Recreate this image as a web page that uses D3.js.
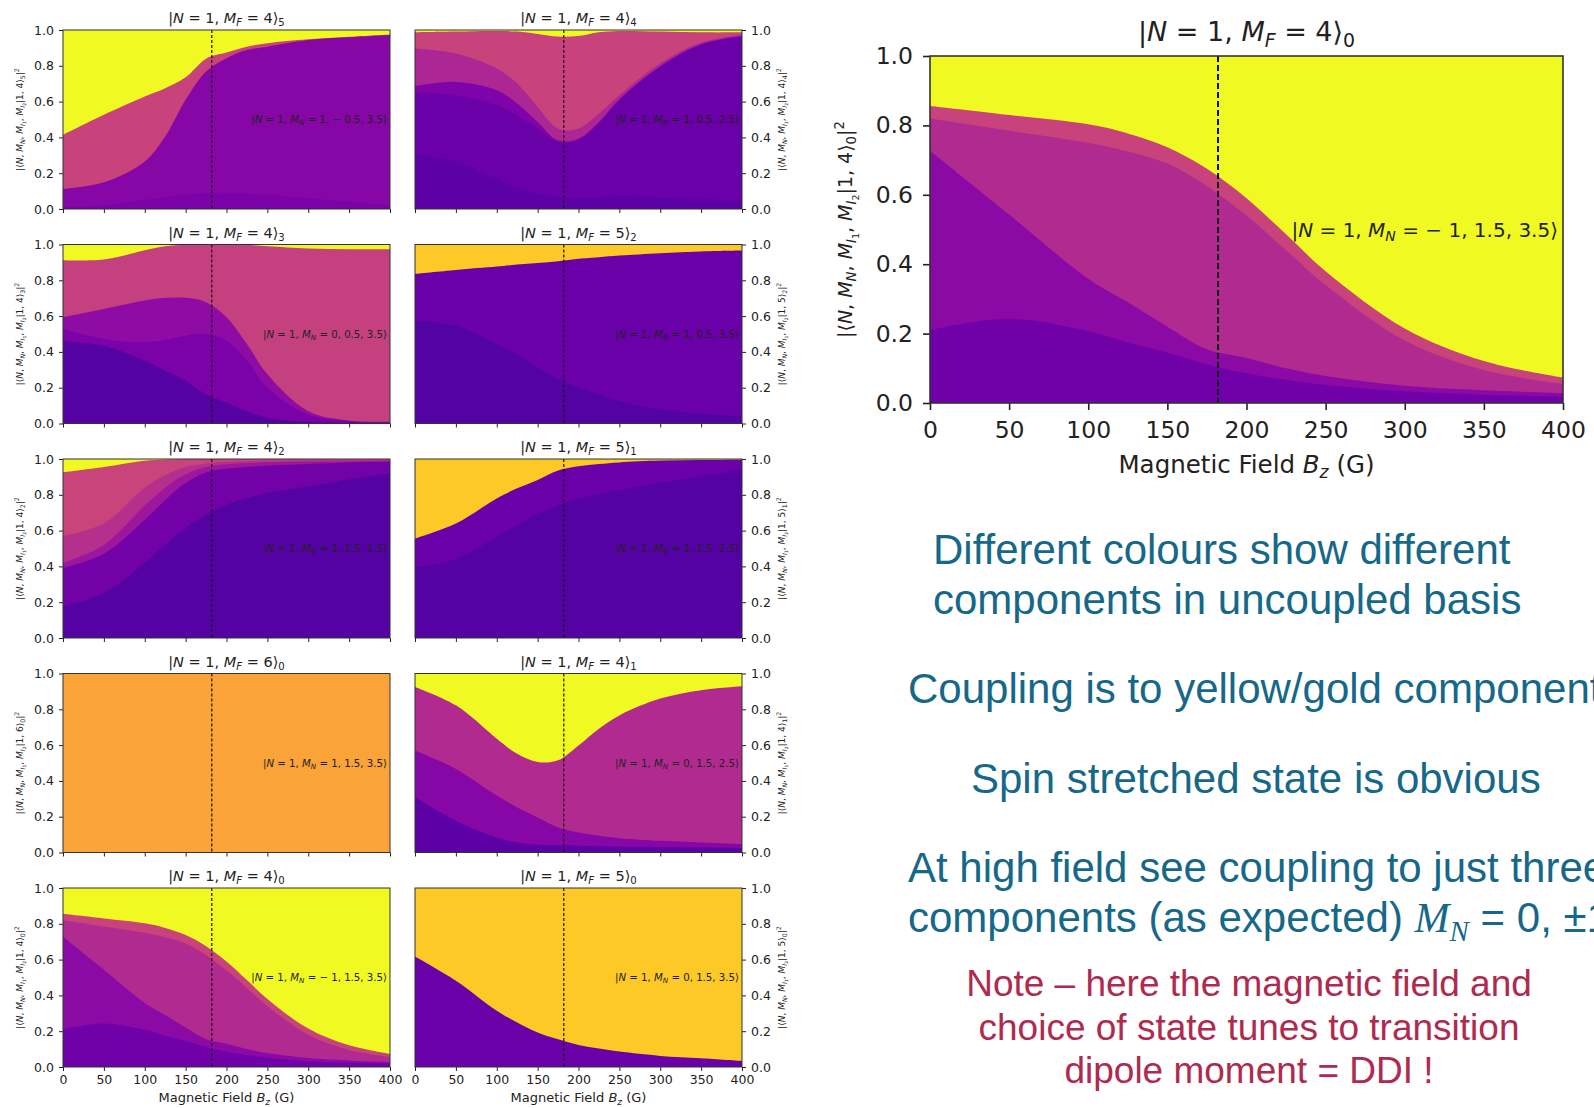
<!DOCTYPE html>
<html>
<head>
<meta charset="utf-8">
<script src="https://cdn.jsdelivr.net/npm/d3@7"></script>
<style>
  body { margin: 0; background: #fff; }
  svg { display: block; font-family: "DejaVu Sans", sans-serif; }
</style>
</head>
<body>
<svg id="chart" width="1594" height="1108"></svg>
<script>
// field values where the stack fractions were read (G)
const fieldB = [0, 50, 100, 125, 150, 175, 200, 225, 250, 300, 350, 400];
const markerB = 182;
const xTicks = [0, 50, 100, 150, 200, 250, 300, 350, 400];
const yTicks = [0, 0.2, 0.4, 0.6, 0.8, 1.0];

// uncoupled-basis components, bottom to top
const mf4s5 = [
  [0.010, 0.020, 0.050, 0.065, 0.080, 0.090, 0.090, 0.085, 0.080, 0.060, 0.040, 0.020],
  [0.102, 0.129, 0.216, 0.340, 0.530, 0.678, 0.752, 0.803, 0.827, 0.884, 0.919, 0.952],
  [0.302, 0.377, 0.362, 0.270, 0.126, 0.072, 0.032, 0.019, 0.019, 0.004, 0.003, 0.003],
  [0.586, 0.474, 0.372, 0.325, 0.264, 0.160, 0.126, 0.093, 0.074, 0.052, 0.038, 0.025]
];
const mf4s4 = [
  [0.308, 0.262, 0.168, 0.121, 0.088, 0.065, 0.062, 0.065, 0.073, 0.065, 0.056, 0.047],
  [0.337, 0.374, 0.411, 0.402, 0.361, 0.309, 0.321, 0.412, 0.534, 0.729, 0.860, 0.916],
  [0.041, 0.074, 0.085, 0.066, 0.037, 0.009, 0.010, 0.009, 0.006, 0.004, 0.004, 0.003],
  [0.211, 0.159, 0.121, 0.112, 0.084, 0.066, 0.056, 0.047, 0.023, 0.015, 0.010, 0.006],
  [0.090, 0.122, 0.209, 0.290, 0.408, 0.514, 0.517, 0.454, 0.358, 0.178, 0.057, 0.015],
  [0.013, 0.009, 0.006, 0.009, 0.022, 0.037, 0.034, 0.013, 0.006, 0.009, 0.013, 0.013]
];
const mf4s3 = [
  [0.460, 0.434, 0.350, 0.294, 0.238, 0.163, 0.116, 0.069, 0.032, 0.008, 0.004, 0.002],
  [0.068, 0.038, 0.103, 0.172, 0.252, 0.337, 0.347, 0.281, 0.168, 0.042, 0.009, 0.005],
  [0.066, 0.168, 0.234, 0.236, 0.212, 0.178, 0.131, 0.094, 0.075, 0.019, 0.004, 0.003],
  [0.318, 0.276, 0.281, 0.288, 0.296, 0.322, 0.406, 0.554, 0.715, 0.909, 0.957, 0.964],
  [0.088, 0.084, 0.032, 0.010, 0.002, 0.000, 0.000, 0.002, 0.010, 0.022, 0.026, 0.026]
];
const mf5s2 = [
  [0.574, 0.546, 0.443, 0.387, 0.312, 0.247, 0.200, 0.163, 0.125, 0.079, 0.054, 0.041],
  [0.262, 0.312, 0.434, 0.501, 0.585, 0.660, 0.720, 0.766, 0.813, 0.872, 0.907, 0.925],
  [0.164, 0.142, 0.123, 0.112, 0.103, 0.093, 0.080, 0.071, 0.062, 0.049, 0.039, 0.034]
];
const mf4s2 = [
  [0.177, 0.251, 0.419, 0.521, 0.614, 0.689, 0.745, 0.782, 0.810, 0.847, 0.885, 0.920],
  [0.213, 0.219, 0.241, 0.249, 0.252, 0.236, 0.200, 0.173, 0.152, 0.125, 0.095, 0.065],
  [0.030, 0.050, 0.080, 0.070, 0.049, 0.030, 0.025, 0.022, 0.020, 0.014, 0.008, 0.005],
  [0.150, 0.120, 0.100, 0.070, 0.040, 0.020, 0.015, 0.011, 0.008, 0.006, 0.005, 0.004],
  [0.355, 0.315, 0.150, 0.087, 0.045, 0.025, 0.015, 0.012, 0.010, 0.008, 0.007, 0.006],
  [0.075, 0.045, 0.010, 0.003, 0.000, 0.000, 0.000, 0.000, 0.000, 0.000, 0.000, 0.000]
];
const mf5s1 = [
  [0.395, 0.442, 0.564, 0.630, 0.695, 0.742, 0.780, 0.805, 0.827, 0.865, 0.902, 0.940],
  [0.160, 0.197, 0.216, 0.206, 0.188, 0.194, 0.179, 0.167, 0.154, 0.126, 0.092, 0.056],
  [0.445, 0.361, 0.220, 0.164, 0.117, 0.064, 0.041, 0.028, 0.019, 0.009, 0.006, 0.004]
];
const mf6s0 = [
  [1, 1, 1, 1, 1, 1, 1, 1, 1, 1, 1, 1]
];
const mf4s1 = [
  [0.310, 0.178, 0.084, 0.056, 0.043, 0.040, 0.038, 0.035, 0.033, 0.030, 0.028, 0.025],
  [0.260, 0.289, 0.234, 0.196, 0.153, 0.100, 0.074, 0.058, 0.047, 0.035, 0.028, 0.022],
  [0.355, 0.355, 0.318, 0.299, 0.309, 0.375, 0.486, 0.599, 0.686, 0.795, 0.851, 0.882],
  [0.075, 0.178, 0.364, 0.449, 0.495, 0.485, 0.402, 0.308, 0.234, 0.140, 0.093, 0.071]
];
const mf4s0 = [
  [0.210, 0.243, 0.207, 0.175, 0.145, 0.112, 0.085, 0.067, 0.052, 0.034, 0.024, 0.019],
  [0.517, 0.300, 0.151, 0.115, 0.075, 0.043, 0.045, 0.033, 0.026, 0.016, 0.013, 0.009],
  [0.093, 0.242, 0.392, 0.435, 0.470, 0.470, 0.410, 0.340, 0.262, 0.130, 0.058, 0.027],
  [0.036, 0.045, 0.053, 0.052, 0.047, 0.050, 0.050, 0.046, 0.040, 0.035, 0.026, 0.018],
  [0.144, 0.170, 0.197, 0.223, 0.263, 0.325, 0.410, 0.514, 0.620, 0.785, 0.879, 0.927]
];
const mf5s0 = [
  [0.617, 0.482, 0.314, 0.249, 0.193, 0.155, 0.123, 0.103, 0.086, 0.062, 0.049, 0.034],
  [0.383, 0.518, 0.686, 0.751, 0.807, 0.845, 0.877, 0.897, 0.914, 0.938, 0.951, 0.966]
];

// grid order: row by row, left then right
const panelComps = [mf4s5, mf4s4, mf4s3, mf5s2, mf4s2, mf5s1, mf6s0, mf4s1, mf4s0, mf5s0];
const panelMF = [4, 4, 4, 5, 4, 5, 6, 4, 4, 5];
const panelIdx = [5, 4, 3, 2, 2, 1, 0, 1, 0, 0];
const noteMN = ['1', '1', '0', '1', '1', '1', '1', '0', '\u2212 1', '0'];
const noteRest = ['\u2212 0.5, 3.5', '0.5, 2.5', '0.5, 3.5', '0.5, 3.5', '1.5, 1.5',
                  '1.5, 2.5', '1.5, 3.5', '1.5, 2.5', '1.5, 3.5', '1.5, 3.5'];
const panelColors = [
  ['#7a02a8', '#8707a6', '#c8437b', '#f0f921'],
  ['#5b01a5', '#6a00a8', '#7e03a8', '#ac2694', '#c8437b', '#f0f921'],
  ['#5402a3', '#7a02a8', '#8e0ca4', '#c5407e', '#f0f921'],
  ['#5302a3', '#6a00a8', '#fcc926'],
  ['#5402a3', '#7201a8', '#9c179e', '#b52f8c', '#c9447a', '#f0f921'],
  ['#5402a3', '#6a00a8', '#fcc926'],
  ['#f9a339'],
  ['#5c01a6', '#8606a6', '#b12a90', '#f0f921'],
  ['#7000a8', '#8b0aa5', '#b12a90', '#c8437b', '#f0f921'],
  ['#6a00a8', '#fcc926']
];

const svg = d3.select('#chart');
const ink = '#222';

// mathtext-like tspans: i = italic, s = subscript, b = sub-subscript, ^ = superscript
function mathText(sel, parts, fs) {
  let shift = 0;
  parts.forEach(([txt, st = '']) => {
    let target = 0, size = fs;
    if (st.includes('s')) { target = fs * 0.22; size = fs * 0.7; }
    if (st.includes('b')) { target = fs * 0.36; size = fs * 0.5; }
    if (st.includes('^')) { target = -fs * 0.4; size = fs * 0.7; }
    sel.append('tspan').text(txt)
      .attr('dy', (target - shift).toFixed(2))
      .attr('font-size', size)
      .attr('font-style', st.includes('i') ? 'italic' : null);
    shift = target;
  });
}

const titleParts = (mf, i) => [['|'], ['N', 'i'], [' = 1, '], ['M', 'i'], ['F', 'is'], [` = ${mf}\u27e9`], [String(i), 's']];
const ylabParts = (mf, i) => [['|\u27e8'], ['N', 'i'], [', '], ['M', 'i'], ['N', 'is'], [', '], ['M', 'i'], ['I', 'is'], ['1', 'b'],
  [', '], ['M', 'i'], ['I', 'is'], ['2', 'b'], [`|1, ${mf}\u27e9`], [String(i), 's'], ['|'], ['2', '^']];
const noteParts = (mn, rest) => [['|'], ['N', 'i'], [' = 1, '], ['M', 'i'], ['N', 'is'], [` = ${mn}, ${rest}\u27e9`]];
const xlabParts = [['Magnetic Field '], ['B', 'i'], ['z', 'is'], [' (G)']];

function drawPanel(p) {
  const { id, left, top, w, h, comps, colors, side, showX, st } = p;
  const x = d3.scaleLinear().domain([0, 400]).range([left, left + w]);
  const y = d3.scaleLinear().domain([0, 1]).range([top + h, top]);
  const g = svg.append('g');

  g.append('clipPath').attr('id', 'clip' + id)
    .append('rect').attr('x', left).attr('y', top).attr('width', w).attr('height', h);
  const plot = g.append('g').attr('clip-path', `url(#clip${id})`);

  // top component fills the remainder
  plot.append('rect').attr('x', left).attr('y', top).attr('width', w).attr('height', h)
    .attr('fill', colors[colors.length - 1]);

  const keys = comps.map((c, k) => 'c' + k);
  const rows = fieldB.map((b, i) => {
    const r = { b };
    comps.forEach((c, k) => { r['c' + k] = c[i]; });
    return r;
  });
  const series = d3.stack().keys(keys)(rows);
  const area = d3.area()
    .x(d => x(d.data.b))
    .y0(y(0))
    .y1(d => y(d[1]))
    .curve(d3.curveCatmullRom.alpha(0.5));
  for (let k = series.length - 2; k >= 0; k--) {
    plot.append('path').datum(series[k]).attr('fill', colors[k]).attr('d', area);
  }

  plot.append('line')
    .attr('x1', x(markerB)).attr('x2', x(markerB))
    .attr('y1', top).attr('y2', top + h)
    .attr('stroke', '#111').attr('stroke-width', st.dashW)
    .attr('stroke-dasharray', st.dash);

  // axes
  const xa = g.append('g').attr('transform', `translate(0,${top + h})`)
    .call(d3.axisBottom(x).tickValues(xTicks).tickSize(st.tick).tickPadding(st.xpad)
      .tickFormat(showX ? d3.format('d') : () => ''));
  const ya = g.append('g')
    .attr('transform', `translate(${side === 'left' ? left : left + w},0)`)
    .call((side === 'left' ? d3.axisLeft(y) : d3.axisRight(y))
      .tickValues(yTicks).tickSize(st.tick).tickPadding(st.ypad).tickFormat(d3.format('.1f')));
  [xa, ya].forEach(a => {
    a.attr('font-family', null).attr('font-size', st.tickFs);
    a.select('.domain').remove();
    a.selectAll('line').attr('stroke', ink).attr('stroke-width', st.lineW);
    a.selectAll('text').attr('fill', ink);
  });

  g.append('rect').attr('x', left).attr('y', top).attr('width', w).attr('height', h)
    .attr('fill', 'none').attr('stroke', '#333').attr('stroke-width', st.lineW);

  mathText(g.append('text').attr('x', left + w / 2).attr('y', top - st.titleOff)
    .attr('text-anchor', 'middle').attr('fill', ink), titleParts(p.mf, p.idx), st.titleFs);

  const ylx = side === 'left' ? left - st.ylabOff : left + w + st.ylabOffR;
  mathText(g.append('text')
    .attr('transform', `translate(${ylx},${top + h / 2}) rotate(-90)`)
    .attr('text-anchor', 'middle').attr('dy', '0.35em').attr('fill', ink),
    ylabParts(p.mf, p.idx), st.ylabFs);

  mathText(g.append('text').attr('x', left + w - st.noteGap).attr('y', y(0.5) + st.noteFs * 0.35)
    .attr('text-anchor', 'end').attr('fill', ink), noteParts(p.mn, p.rest), st.noteFs);

  if (showX) {
    mathText(g.append('text').attr('x', left + w / 2).attr('y', top + h + st.xlabOff)
      .attr('text-anchor', 'middle').attr('fill', ink), xlabParts, st.xlabFs);
  }
}

const smallStyle = {
  tick: 4, xpad: 4, ypad: 5, tickFs: 12.5, lineW: 1, titleFs: 14.5, titleOff: 7,
  ylabFs: 9, ylabOff: 40, ylabOffR: 43, noteFs: 10.2, noteGap: 3,
  xlabFs: 13, xlabOff: 35, dash: '3,2', dashW: 1.2
};
const bigStyle = {
  tick: 7, xpad: 11, ypad: 10, tickFs: 23.5, lineW: 1.6, titleFs: 27, titleOff: 15,
  ylabFs: 19, ylabOff: 78, ylabOffR: 0, noteFs: 20, noteGap: 5,
  xlabFs: 24.5, xlabOff: 70, dash: '6,3', dashW: 2
};

const colLeft = [63, 415];
const rowTop = [30, 244.5, 459, 673.5, 888];

panelComps.forEach((comps, i) => {
  const r = Math.floor(i / 2), c = i % 2;
  drawPanel({
    id: i, left: colLeft[c], top: rowTop[r], w: 327, h: 179,
    comps, colors: panelColors[i], side: c === 0 ? 'left' : 'right', showX: r === 4,
    mf: panelMF[i], idx: panelIdx[i], mn: noteMN[i], rest: noteRest[i], st: smallStyle
  });
});

// enlarged copy of |N=1, M_F=4>_0
drawPanel({
  id: 'big', left: 930, top: 56, w: 633, h: 347,
  comps: mf4s0, colors: panelColors[8], side: 'left', showX: true,
  mf: 4, idx: 0, mn: '\u2212 1', rest: '1.5, 3.5', st: bigStyle
});

// commentary text
const teal = '#156889', wine = '#b0294f';
const tealLines = [
  ['Different colours show different', 933, 564],
  ['components in uncoupled basis', 933, 614],
  ['Coupling is to yellow/gold components', 908, 703],
  ['Spin stretched state is obvious', 971, 793],
  ['At high field see coupling to just three', 908, 882]
];
const noteLines = [
  ['Note \u2013 here the magnetic field and', 996],
  ['choice of state tunes to transition', 1040],
  ['dipole moment = DDI !', 1083]
];

const txt = svg.append('g').attr('font-family', '"Liberation Sans", Arial, sans-serif');
tealLines.forEach(([t, x, y]) => {
  txt.append('text').attr('x', x).attr('y', y).attr('font-size', 42).attr('fill', teal).text(t);
});
const last = txt.append('text').attr('x', 908).attr('y', 932).attr('font-size', 42).attr('fill', teal);
last.append('tspan').text('components (as expected) ');
last.append('tspan').text('M').attr('font-family', '"Liberation Serif", serif').attr('font-style', 'italic');
last.append('tspan').text('N').attr('font-family', '"Liberation Serif", serif').attr('font-style', 'italic')
  .attr('font-size', 29).attr('dy', 9);
last.append('tspan').text(' = 0, \u00b11').attr('dy', -9);

noteLines.forEach(([t, y]) => {
  txt.append('text').attr('x', 1249).attr('y', y).attr('font-size', 37)
    .attr('text-anchor', 'middle').attr('fill', wine).text(t);
});
</script>
</body>
</html>
